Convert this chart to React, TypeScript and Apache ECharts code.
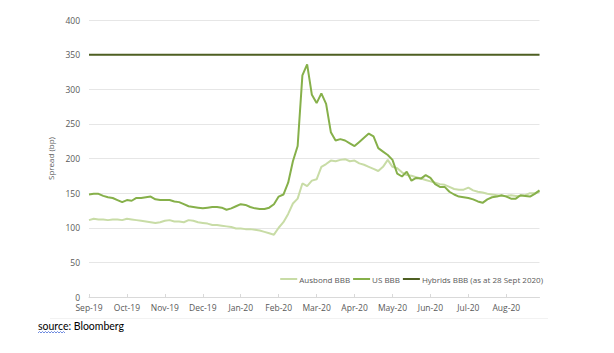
import React, { useEffect, useRef } from "react";
import * as echarts from "echarts";

const monthLabels = ["Sep-19", "Oct-19", "Nov-19", "Dec-19", "Jan-20", "Feb-20", "Mar-20", "Apr-20", "May-20", "Jun-20", "Jul-20", "Aug-20"];
const pointsPerMonth = 8;

const ausbondBBB = [
  111, 113, 112, 112, 111, 112, 112, 111,
  113, 112, 111, 110, 109, 108, 107, 108,
  110, 111, 109, 109, 108, 111, 110, 108,
  107, 106, 104, 104, 103, 102, 101, 99,
  99, 98, 98, 97, 96, 94, 92, 90,
  100, 108, 120, 135, 142, 164, 160, 168,
  170, 188, 192, 197, 196, 198, 199, 196,
  197, 193, 191, 188, 185, 182, 188, 198,
  188, 186, 180, 176, 175, 173, 171, 169,
  167, 165, 163, 162, 159, 156, 155, 155,
  158, 154, 152, 151, 149, 148, 147, 146,
  146, 147, 146, 146, 147, 150, 150, 152,
];

const usBBB = [
  148, 149, 149, 146, 144, 143, 140, 137,
  140, 139, 143, 143, 144, 145, 141, 140,
  140, 140, 138, 137, 134, 131, 130, 129,
  128, 129, 130, 130, 129, 126, 128, 131,
  134, 133, 130, 128, 127, 127, 129, 134,
  145, 148, 165, 196, 218, 320, 336, 292,
  280, 294, 279, 238, 226, 228, 226, 222,
  218, 224, 230, 236, 232, 215, 210, 205,
  198, 178, 174, 181, 168, 172, 171, 176,
  172, 163, 159, 159, 152, 148, 145, 144,
  143, 141, 138, 136, 141, 144, 145, 147,
  145, 142, 142, 147, 146, 145, 149, 154,
];

const hybridsBBB = new Array(usBBB.length).fill(350);

const categories = usBBB.map((_, i) => `${monthLabels[Math.floor(i / pointsPerMonth)]}#${i}`);

const yTicks = { min: 0, max: 400, interval: 50 };

export default function App() {
  const ref = useRef<HTMLDivElement>(null);
  useEffect(() => {
    if (!ref.current) return;
    const chart = echarts.init(ref.current, undefined, { renderer: "svg" });
    const font = "'Open Sans', sans-serif";
    chart.setOption({
      animation: false,
      backgroundColor: "#ffffff",
      grid: { left: 89, right: 74.5, top: 20, bottom: 56, containLabel: false },
      legend: {
        right: 66,
        top: 270,
        itemWidth: 17,
        itemHeight: 2,
        itemGap: 3,
        icon: "rect",
        textStyle: { fontFamily: font, fontSize: 8, color: "#595959", padding: [0, 0, 0, -3] },
        data: ["Ausbond BBB", "US BBB", "Hybrids BBB (as at 28 Sept 2020)"],
      },
      xAxis: {
        type: "category",
        boundaryGap: false,
        data: categories,
        axisLine: { lineStyle: { color: "#d9d9d9", width: 1 } },
        axisTick: { show: true, inside: true, length: 3, interval: pointsPerMonth - 1, lineStyle: { color: "#d9d9d9" } },
        axisLabel: {
          interval: pointsPerMonth - 1,
          margin: 6,
          fontFamily: font,
          fontSize: 8.5,
          color: "#595959",
          formatter: (v: string) => v.split("#")[0],
        },
        splitLine: { show: false },
      },
      yAxis: {
        type: "value",
        min: yTicks.min,
        max: yTicks.max,
        interval: yTicks.interval,
        name: "Spread (bp)",
        nameLocation: "middle",
        nameGap: 26,
        nameTextStyle: { fontFamily: font, fontSize: 8, color: "#595959" },
        axisLine: { show: false },
        axisTick: { show: false },
        axisLabel: { fontFamily: font, fontSize: 8.5, color: "#595959", margin: 9 },
        splitLine: { lineStyle: { color: "#e6e6e6", width: 1 } },
      },
      series: [
        {
          name: "Ausbond BBB",
          type: "line",
          data: ausbondBBB,
          showSymbol: false,
          symbol: "none",
          lineStyle: { color: "#c8dca6", width: 2 },
          itemStyle: { color: "#c8dca6" },
          z: 2,
        },
        {
          name: "US BBB",
          type: "line",
          data: usBBB,
          showSymbol: false,
          symbol: "none",
          lineStyle: { color: "#86b04a", width: 2 },
          itemStyle: { color: "#86b04a" },
          z: 3,
        },
        {
          name: "Hybrids BBB (as at 28 Sept 2020)",
          type: "line",
          data: hybridsBBB,
          showSymbol: false,
          symbol: "none",
          lineStyle: { color: "#4e5f22", width: 2 },
          itemStyle: { color: "#4e5f22" },
          z: 4,
        },
      ],
      graphic: [
        {
          type: "line",
          shape: { x1: 50, y1: 318.5, x2: 548, y2: 318.5 },
          style: { stroke: "#f2f2f2", lineWidth: 1 },
          silent: true,
        },
        {
          type: "text",
          left: 38,
          top: 320,
          style: { text: "source: Bloomberg", fontFamily: "Lato, sans-serif", fontSize: 10.5, fill: "#000000" },
          silent: true,
        },
        {
          type: "polyline",
          shape: {
            points: [
              [38, 333], [39.5, 331.5], [41, 333], [42.5, 331.5], [44, 333], [45.5, 331.5], [47, 333], [48.5, 331.5],
              [50, 333], [51.5, 331.5], [53, 333], [54.5, 331.5], [56, 333], [57.5, 331.5], [59, 333], [60.5, 331.5],
              [62, 333], [63.5, 331.5], [65, 333],
            ],
          },
          style: { stroke: "#4a6fd8", lineWidth: 0.8, fill: null },
          silent: true,
        },
      ],
    });
    return () => chart.dispose();
  }, []);
  return <div ref={ref} style={{ position: "absolute", left: 0, top: 0, width: 614, height: 353 }} />;
}
